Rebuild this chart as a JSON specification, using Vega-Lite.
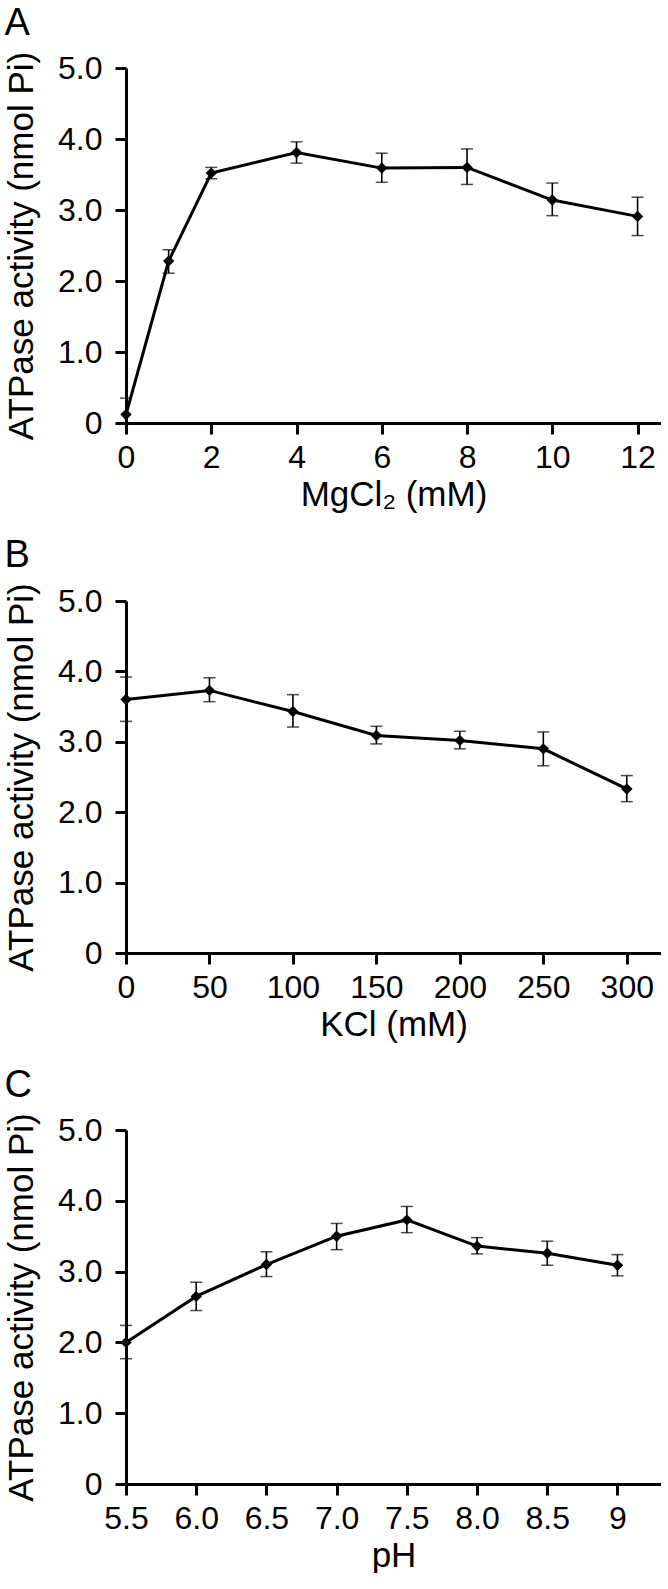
{
  "$schema": "https://vega.github.io/schema/vega-lite/v6.json",
  "padding": {"left": 4, "top": 5, "right": 0, "bottom": 0},
  "background": "white",
  "spacing": 24,
  "datasets": {
    "A": [
      {"x": 0, "v": 0.12, "lo": 0, "hi": 0.35},
      {"x": 1, "v": 2.28, "lo": 2.11, "hi": 2.44},
      {"x": 2, "v": 3.52, "lo": 3.44, "hi": 3.6},
      {"x": 4, "v": 3.81, "lo": 3.66, "hi": 3.96},
      {"x": 6, "v": 3.59, "lo": 3.39, "hi": 3.8},
      {"x": 8, "v": 3.6, "lo": 3.36, "hi": 3.86},
      {"x": 10, "v": 3.14, "lo": 2.92, "hi": 3.38},
      {"x": 12, "v": 2.91, "lo": 2.64, "hi": 3.18}
    ],
    "B": [
      {"x": 0, "v": 3.6, "lo": 3.29, "hi": 3.92},
      {"x": 50, "v": 3.73, "lo": 3.57, "hi": 3.91},
      {"x": 100, "v": 3.43, "lo": 3.21, "hi": 3.67},
      {"x": 150, "v": 3.09, "lo": 2.97, "hi": 3.22},
      {"x": 200, "v": 3.02, "lo": 2.9, "hi": 3.15},
      {"x": 250, "v": 2.9, "lo": 2.66, "hi": 3.14},
      {"x": 300, "v": 2.33, "lo": 2.15, "hi": 2.52}
    ],
    "C": [
      {"x": 5.5, "v": 2.0, "lo": 1.77, "hi": 2.24},
      {"x": 6.0, "v": 2.65, "lo": 2.45, "hi": 2.85},
      {"x": 6.5, "v": 3.1, "lo": 2.93, "hi": 3.28},
      {"x": 7.0, "v": 3.5, "lo": 3.31, "hi": 3.68},
      {"x": 7.5, "v": 3.73, "lo": 3.55, "hi": 3.92},
      {"x": 8.0, "v": 3.36, "lo": 3.25, "hi": 3.48},
      {"x": 8.5, "v": 3.26, "lo": 3.09, "hi": 3.43},
      {"x": 9.0, "v": 3.09, "lo": 2.94, "hi": 3.24}
    ]
  },
  "vconcat": [
    {
      "width": 535, "height": 355,
      "title": {"text": "A"},
      "data": {"name": "A"},
      "encoding": {
        "x": {"field": "x", "type": "quantitative", "title": "MgCl₂ (mM)",
          "scale": {"domain": [0, 12.55], "nice": false, "zero": false},
          "axis": {"values": [0, 2, 4, 6, 8, 10, 12]}}
      },
      "layer": [
        {"mark": {"type": "errorbar", "color": "black", "ticks": {"size": 12, "thickness": 1.5}, "rule": {"strokeWidth": 1.6}},
          "encoding": {"y": {"field": "lo", "type": "quantitative", "title": "ATPase activity (nmol Pi)", "scale": {"domain": [0, 5], "nice": false}, "axis": {"values": [0, 1, 2, 3, 4, 5], "labelExpr": "datum.value == 0 ? '0' : format(datum.value, '.1f')"}}, "y2": {"field": "hi"}}},
        {"mark": {"type": "line", "color": "black", "strokeWidth": 3},
          "encoding": {"y": {"field": "v", "type": "quantitative", "title": "ATPase activity (nmol Pi)"}}},
        {"mark": {"type": "point", "shape": "diamond", "filled": true, "size": 130, "color": "black", "opacity": 1},
          "encoding": {"y": {"field": "v", "type": "quantitative", "title": "ATPase activity (nmol Pi)"}}}
      ]
    },
    {
      "width": 535, "height": 352,
      "title": {"text": "B"},
      "data": {"name": "B"},
      "encoding": {
        "x": {"field": "x", "type": "quantitative", "title": "KCl (mM)",
          "scale": {"domain": [0, 320.5], "nice": false, "zero": false},
          "axis": {"values": [0, 50, 100, 150, 200, 250, 300]}}
      },
      "layer": [
        {"mark": {"type": "errorbar", "color": "black", "ticks": {"size": 12, "thickness": 1.5}, "rule": {"strokeWidth": 1.6}},
          "encoding": {"y": {"field": "lo", "type": "quantitative", "title": "ATPase activity (nmol Pi)", "scale": {"domain": [0, 5], "nice": false}, "axis": {"values": [0, 1, 2, 3, 4, 5], "labelExpr": "datum.value == 0 ? '0' : format(datum.value, '.1f')"}}, "y2": {"field": "hi"}}},
        {"mark": {"type": "line", "color": "black", "strokeWidth": 3},
          "encoding": {"y": {"field": "v", "type": "quantitative", "title": "ATPase activity (nmol Pi)"}}},
        {"mark": {"type": "point", "shape": "diamond", "filled": true, "size": 130, "color": "black", "opacity": 1},
          "encoding": {"y": {"field": "v", "type": "quantitative", "title": "ATPase activity (nmol Pi)"}}}
      ]
    },
    {
      "width": 535, "height": 354,
      "title": {"text": "C"},
      "data": {"name": "C"},
      "encoding": {
        "x": {"field": "x", "type": "quantitative", "title": "pH",
          "scale": {"domain": [5.5, 9.31], "nice": false, "zero": false},
          "axis": {"values": [5.5, 6, 6.5, 7, 7.5, 8, 8.5, 9], "labelExpr": "datum.value == 9 ? '9' : format(datum.value, '.1f')"}}
      },
      "layer": [
        {"mark": {"type": "errorbar", "color": "black", "ticks": {"size": 12, "thickness": 1.5}, "rule": {"strokeWidth": 1.6}},
          "encoding": {"y": {"field": "lo", "type": "quantitative", "title": "ATPase activity (nmol Pi)", "scale": {"domain": [0, 5], "nice": false}, "axis": {"values": [0, 1, 2, 3, 4, 5], "labelExpr": "datum.value == 0 ? '0' : format(datum.value, '.1f')"}}, "y2": {"field": "hi"}}},
        {"mark": {"type": "line", "color": "black", "strokeWidth": 3},
          "encoding": {"y": {"field": "v", "type": "quantitative", "title": "ATPase activity (nmol Pi)"}}},
        {"mark": {"type": "point", "shape": "diamond", "filled": true, "size": 130, "color": "black", "opacity": 1},
          "encoding": {"y": {"field": "v", "type": "quantitative", "title": "ATPase activity (nmol Pi)"}}}
      ]
    }
  ],
  "config": {
    "font": "Liberation Sans",
    "view": {"stroke": null},
    "axis": {
      "grid": false,
      "domainColor": "black", "domainWidth": 3,
      "tickColor": "black", "tickWidth": 3, "tickSize": 11,
      "labelFont": "Liberation Sans", "labelFontSize": 32, "labelColor": "black",
      "labelFlush": false, "labelOverlap": false,
      "titleFont": "Liberation Sans", "titleFontSize": 35, "titleFontWeight": "normal", "titleColor": "black"
    },
    "axisY": {"titlePadding": 18, "labelPadding": 13},
    "axisX": {"titlePadding": 4, "labelPadding": 8},
    "title": {"font": "Liberation Sans", "fontSize": 38, "fontWeight": "normal", "color": "black", "anchor": "start", "frame": "bounds", "offset": 8}
  }
}
